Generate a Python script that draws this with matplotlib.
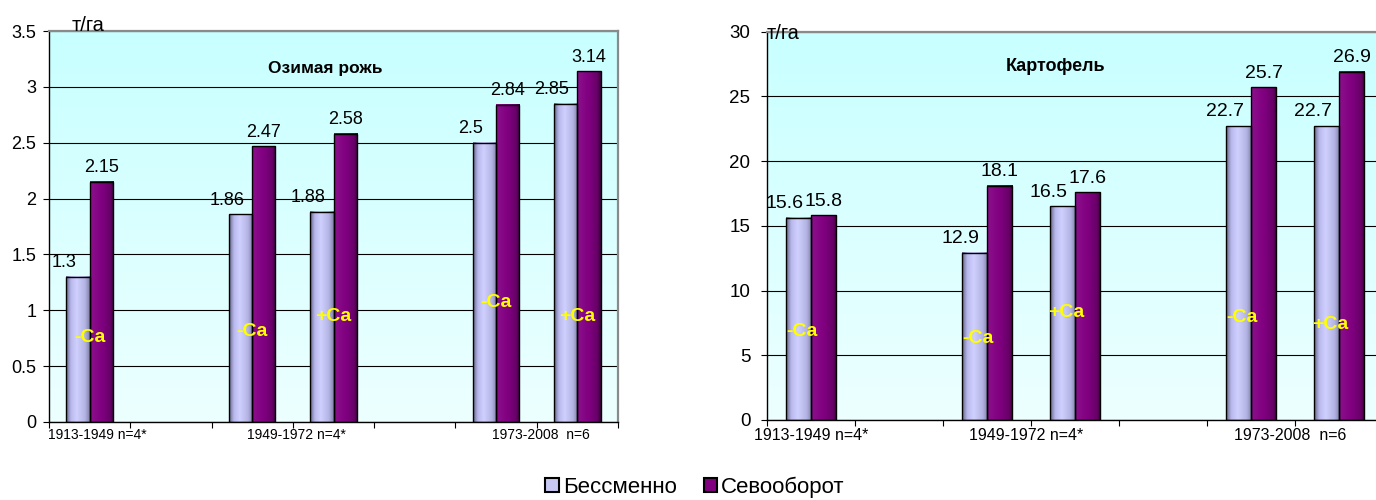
import numpy as np
import matplotlib
matplotlib.use("Agg")
import matplotlib.pyplot as plt
from matplotlib.colors import LinearSegmentedColormap
from matplotlib.patches import Rectangle
from matplotlib.ticker import FuncFormatter

plt.rcParams['font.family'] = ['Liberation Sans', 'DejaVu Sans']

# slots on the category axis (7 slots, two of them empty)
slots = [0, 2, 3, 5, 6]
period_labels = ['1913-1949 n=4*', '1949-1972 n=4*', '1973-2008  n=6']
ca_marks = ['-Ca', '-Ca', '+Ca', '-Ca', '+Ca']

# winter rye, t/ha
rye_mono = [1.3, 1.86, 1.88, 2.5, 2.85]
rye_rot = [2.15, 2.47, 2.58, 2.84, 3.14]

# potato, t/ha
potato_mono = [15.6, 12.9, 16.5, 22.7, 22.7]
potato_rot = [15.8, 18.1, 17.6, 25.7, 26.9]

series_names = ['Бессменно', 'Севооборот']

# bar shading (cylinder-like gradient across each bar)
gray_cmap = LinearSegmentedColormap.from_list(
    'gray_bar', [(0, '#66668a'), (0.2, '#b8b8ec'), (0.45, '#d0d0ff'),
                 (0.8, '#b4b4e4'), (1.0, '#8080a8')])
purple_cmap = LinearSegmentedColormap.from_list(
    'purple_bar', [(0, '#8c108c'), (0.5, '#800080'), (0.85, '#680068'),
                   (1.0, '#3a003a')])
bg_cmap = LinearSegmentedColormap.from_list('bg', ['#edffff', '#c8ffff'])

W = 0.285


def shaded_bars(ax, x, h, cmap):
    bars = ax.bar(x, h, W, facecolor='none', edgecolor='black', lw=1.0, zorder=3)
    row = np.linspace(0, 1, 64).reshape(1, -1)
    for b in bars:
        x0, bw, bh = b.get_x(), b.get_width(), b.get_height()
        ax.imshow(row, cmap=cmap, extent=(x0, x0 + bw, 0, bh), aspect='auto',
                  interpolation='bilinear', zorder=2)
    return bars


def make_panel(ax, mono, rot, ymax, ystep, title, label_pos, ca_y, ca_dx,
               tick_fs, val_fs, cat_fs, title_fs, ca_fs, ypad, xpad):
    # background gradient
    col = np.linspace(0, 1, 128).reshape(-1, 1)
    ax.imshow(col, cmap=bg_cmap, extent=(0, 1, 0, 1), transform=ax.transAxes,
              aspect='auto', origin='lower', zorder=0)

    xs = np.array(slots, dtype=float)
    gb = shaded_bars(ax, xs - W / 2, mono, gray_cmap)
    pb = shaded_bars(ax, xs + W / 2, rot, purple_cmap)

    for b, v in zip(gb, mono):
        ax.annotate(f'{v:g}', (b.get_x() + b.get_width() / 2, v),
                    xytext=(-10, 4), textcoords='offset points',
                    ha='center', va='bottom', fontsize=val_fs)
    for b, v in zip(pb, rot):
        ax.annotate(f'{v:g}', (b.get_x() + b.get_width() / 2, v),
                    xytext=(0, 4), textcoords='offset points',
                    ha='center', va='bottom', fontsize=val_fs)

    for x, m, y in zip(slots, ca_marks, ca_y):
        ax.text(x + ca_dx, y, m, color='#ffff00', fontweight='bold',
                fontsize=ca_fs, ha='center', va='center', zorder=4)

    ax.set_xlim(-0.5, 6.5)
    ax.set_ylim(0, ymax)
    ax.set_yticks(np.arange(0, ymax + ystep / 2, ystep))
    ax.yaxis.set_major_formatter(FuncFormatter(lambda v, p: f'{v:g}'))
    ax.tick_params(axis='y', length=4, width=0.8, labelsize=tick_fs, pad=ypad)

    ax.set_xticks(np.arange(-0.5, 7, 1))
    ax.set_xticklabels([])
    ax.tick_params(axis='x', which='major', length=4, width=0.8)
    ax.set_xticks(label_pos, period_labels, minor=True)
    ax.tick_params(axis='x', which='minor', length=0, labelsize=cat_fs, pad=xpad)

    ax.yaxis.grid(True, color='black', lw=0.8)
    ax.set_axisbelow(True)
    for s in ('left', 'bottom'):
        ax.spines[s].set_color('black')
        ax.spines[s].set_linewidth(1.0)
    for s in ('top', 'right'):
        ax.spines[s].set_color('#8a8a8a')
        ax.spines[s].set_linewidth(1.6)

    ax.text(title[1], title[2], title[0], transform=ax.transAxes,
            ha='center', va='center', fontsize=title_fs, fontweight='bold')


fig = plt.figure(figsize=(13.76, 5.0), dpi=100)

ax1 = fig.add_axes([49 / 1376, 1 - 422 / 500, 569 / 1376, 391 / 500])
make_panel(ax1, rye_mono, rye_rot, 3.5, 0.5, ('Озимая рожь', 0.485, 0.905),
           [0.1, 2.55, 5.55], [0.76, 0.81, 0.94, 1.07, 0.94], 0.0,
           tick_fs=13, val_fs=13, cat_fs=10, title_fs=12.5, ca_fs=14,
           ypad=5, xpad=4)
ax1.text(0.04, 1.013, 'т/га', transform=ax1.transAxes, ha='left', va='center',
         fontsize=14.5)

ax2 = fig.add_axes([767 / 1376, 1 - 420 / 500, 616 / 1376, 388.5 / 500])
make_panel(ax2, potato_mono, potato_rot, 30, 5, ('Картофель', 0.469, 0.909),
           [0.0, 2.45, 5.45], [6.8, 6.3, 8.3, 7.9, 7.4], -0.1,
           tick_fs=13.5, val_fs=14, cat_fs=11.5, title_fs=13, ca_fs=14,
           ypad=8, xpad=6)
ax2.text(0.0, 0.995, 'т/га', transform=ax2.transAxes, ha='left', va='center',
         fontsize=14.5)

handles = [Rectangle((0, 0), 1, 1, facecolor='#c8c8f4', edgecolor='black', lw=1.5),
           Rectangle((0, 0), 1, 1, facecolor='#800080', edgecolor='black', lw=1.5)]
fig.legend(handles, series_names, loc='center', bbox_to_anchor=(695 / 1376, 1 - 487 / 500),
           ncol=2, frameon=False, fontsize=16, handlelength=0.6, handleheight=0.6,
           handletextpad=0.2, columnspacing=1.2)

fig.savefig('out.png', dpi=100)
